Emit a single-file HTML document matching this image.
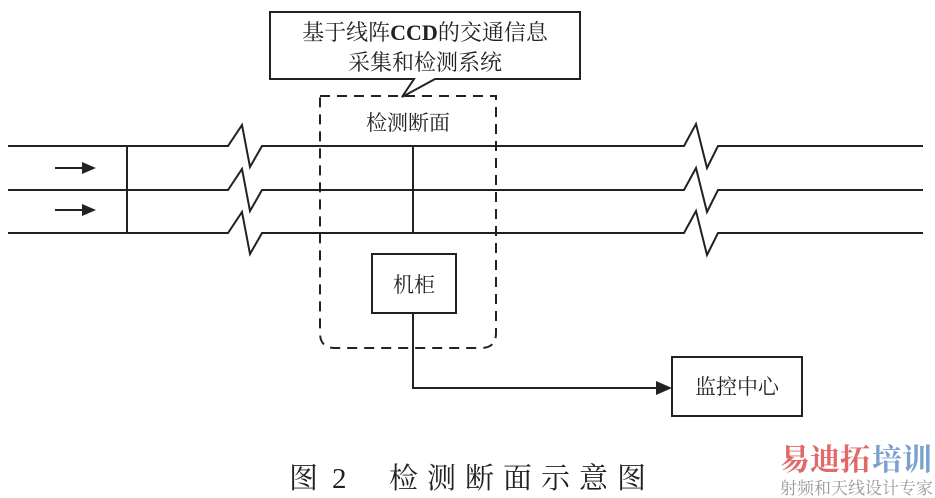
<!DOCTYPE html>
<html><head><meta charset="utf-8"><style>
body{margin:0;background:#fff;}
svg{display:block}
text{font-family:"Liberation Serif","Noto Serif CJK SC",serif;fill:#222;}
</style></head><body>
<svg width="935" height="498" viewBox="0 0 935 498" xmlns="http://www.w3.org/2000/svg">
<g stroke="#222" stroke-width="2" fill="none">
<polyline points="8,146 228,146 242,125 250,167 262,146 684,146 696,124 707,168 718,146 923,146"/>
<polyline points="8,190 228,190 242,169 250,211 262,190 684,190 696,168 707,212 718,190 923,190"/>
<polyline points="8,233 228,233 242,212 250,254 262,233 684,233 696,211 707,255 718,233 923,233"/>
<line x1="127" y1="146" x2="127" y2="233"/>
<line x1="413" y1="146" x2="413" y2="233"/>
<path d="M320,96 H496 V333 Q496,348 481,348 H335 Q320,348 320,333 Z" stroke-dasharray="10,7"/>
<path d="M270,12 H580 V79 H435 L402,97 L414,79 H270 Z" fill="#fff"/>
<rect x="372" y="254" width="84" height="59"/>
<polyline points="413,313 413,388 662,388"/>
<rect x="672" y="357" width="130" height="59"/>
<line x1="55" y1="168" x2="84" y2="168"/>
<line x1="55" y1="210" x2="84" y2="210"/>
</g>
<g fill="#222">
<polygon points="96,168 82,162 82,174"/>
<polygon points="96,210 82,204 82,216"/>
<polygon points="672,388 656,381 656,395"/>
</g>
<text x="425" y="40" font-size="22" text-anchor="middle">基于线阵<tspan font-weight="bold">CCD</tspan>的交通信息</text>
<text x="425" y="70" font-size="22" text-anchor="middle">采集和检测系统</text>
<text x="408" y="130" font-size="21" text-anchor="middle">检测断面</text>
<text x="414" y="292" font-size="21" text-anchor="middle">机柜</text>
<text x="737" y="394" font-size="21" text-anchor="middle">监控中心</text>
<g font-size="29">
<text x="289" y="488">图</text>
<text x="332" y="488">2</text>
<text x="389" y="488">检</text>
<text x="427" y="488">测</text>
<text x="465" y="488">断</text>
<text x="503" y="488">面</text>
<text x="541" y="488">示</text>
<text x="579" y="488">意</text>
<text x="617" y="488">图</text>
</g>
<text x="780" y="470" font-size="30" font-weight="bold" style="fill:#e06a6a">易迪拓</text>
<text x="872" y="470" font-size="30" font-weight="bold" style="fill:#7aa0d0">培训</text>
<text x="780" y="494" font-size="17" style="fill:#999">射频和天线设计专家</text>
</svg>
</body></html>
